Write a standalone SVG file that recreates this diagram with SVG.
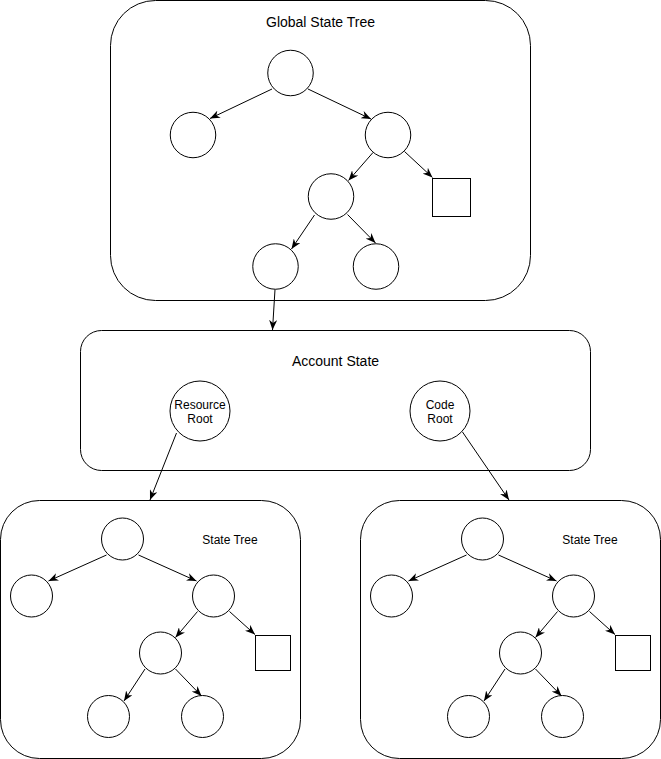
<svg xmlns="http://www.w3.org/2000/svg" width="661" height="759" viewBox="0 0 661 759">
  <defs>
    <marker id="arrow" viewBox="0 0 10 8" refX="10" refY="4" markerWidth="10" markerHeight="8" markerUnits="userSpaceOnUse" orient="auto">
      <path d="M0,0 L10,4 L0,8 L3,4 Z" fill="#000"/>
    </marker>
    <style>
      .box { fill: #fff; stroke: #000; stroke-width: 1; }
      .node { fill: #fff; stroke: #000; stroke-width: 1; }
      .edge { fill: none; stroke: #000; stroke-width: 1; marker-end: url(#arrow); }
      .title { font-family: "Liberation Sans", Arial, Helvetica, sans-serif; font-size: 14px; fill: #000; text-anchor: middle; }
      .label { font-family: "Liberation Sans", Arial, Helvetica, sans-serif; font-size: 12px; fill: #000; text-anchor: middle; }
    </style>
  </defs>

  <!-- Containers -->
  <g id="global-state-tree">
    <rect class="box" x="110.5" y="0.5" width="420" height="300" rx="45" ry="45"/>
    <text class="title" x="320.5" y="27">Global State Tree</text>
  </g>
  <g id="account-state">
    <rect class="box" x="80.5" y="330.5" width="510" height="140" rx="21" ry="21"/>
    <text class="title" x="335.5" y="366">Account State</text>
  </g>
  <g id="resource-state-tree">
    <rect class="box" x="0.5" y="500.5" width="300" height="258" rx="39" ry="39"/>
    <text class="label" x="230" y="544">State Tree</text>
  </g>
  <g id="code-state-tree">
    <rect class="box" x="360.5" y="500.5" width="300" height="258" rx="39" ry="39"/>
    <text class="label" x="590" y="544">State Tree</text>
  </g>

  <!-- Global tree nodes -->
  <g id="g-root"><circle class="node" cx="290.5" cy="73" r="22.75"/></g>
  <g id="g-left"><circle class="node" cx="193" cy="135" r="22.75"/></g>
  <g id="g-right"><circle class="node" cx="388" cy="135" r="22.75"/></g>
  <g id="g-mid"><circle class="node" cx="331" cy="196.5" r="22.75"/></g>
  <g id="g-leaf"><rect class="node" x="432.5" y="178.5" width="38" height="38"/></g>
  <g id="g-account"><circle class="node" cx="275.5" cy="266.5" r="22.75"/></g>
  <g id="g-other"><circle class="node" cx="376" cy="266.5" r="22.75"/></g>

  <!-- Account roots -->
  <g id="resource-root">
    <circle class="node" cx="200" cy="411" r="30"/>
    <text class="label" x="200" y="408.5">Resource</text>
    <text class="label" x="200" y="422.5">Root</text>
  </g>
  <g id="code-root">
    <circle class="node" cx="440" cy="411" r="30"/>
    <text class="label" x="440" y="408.5">Code</text>
    <text class="label" x="440" y="422.5">Root</text>
  </g>

  <!-- Resource state tree nodes -->
  <g id="r-root"><circle class="node" cx="122.5" cy="539" r="21"/></g>
  <g id="r-left"><circle class="node" cx="31.5" cy="596" r="21"/></g>
  <g id="r-right"><circle class="node" cx="213.5" cy="596" r="21"/></g>
  <g id="r-mid"><circle class="node" cx="160.5" cy="653" r="21"/></g>
  <g id="r-leaf"><rect class="node" x="255.5" y="635.5" width="35" height="35"/></g>
  <g id="r-bl"><circle class="node" cx="108.5" cy="716.5" r="21"/></g>
  <g id="r-br"><circle class="node" cx="202.5" cy="716.5" r="21"/></g>

  <!-- Code state tree nodes -->
  <g id="c-root"><circle class="node" cx="482.5" cy="539" r="21"/></g>
  <g id="c-left"><circle class="node" cx="391.5" cy="596" r="21"/></g>
  <g id="c-right"><circle class="node" cx="573.5" cy="596" r="21"/></g>
  <g id="c-mid"><circle class="node" cx="520.5" cy="653" r="21"/></g>
  <g id="c-leaf"><rect class="node" x="615.5" y="635.5" width="35" height="35"/></g>
  <g id="c-bl"><circle class="node" cx="468.5" cy="716.5" r="21"/></g>
  <g id="c-br"><circle class="node" cx="562.5" cy="716.5" r="21"/></g>

  <!-- Connectors -->
  <g id="connectors">
    <path class="edge" d="M272,89 L210,118.5"/>
    <path class="edge" d="M308,89 L371,119"/>
    <path class="edge" d="M373,152.5 L348.5,180.5"/>
    <path class="edge" d="M404.5,151.5 L432.5,177.5"/>
    <path class="edge" d="M314.5,215 L291.5,249"/>
    <path class="edge" d="M347.5,214.5 L375.5,243"/>
    <path class="edge" d="M275,289.5 L272.5,330"/>

    <path class="edge" d="M176.5,433 L150,500"/>
    <path class="edge" d="M462.5,432 L509,500"/>

    <path class="edge" d="M106.5,555 L48.5,581"/>
    <path class="edge" d="M138.5,555 L196.5,581"/>
    <path class="edge" d="M197.5,611.5 L175.5,637.5"/>
    <path class="edge" d="M229.5,611.5 L255,634.5"/>
    <path class="edge" d="M145,669 L124,701"/>
    <path class="edge" d="M175.5,669 L201.5,696"/>

    <path class="edge" d="M466.5,555 L408.5,581"/>
    <path class="edge" d="M498.5,555 L556.5,581"/>
    <path class="edge" d="M557.5,611.5 L535.5,637.5"/>
    <path class="edge" d="M589.5,611.5 L615,634.5"/>
    <path class="edge" d="M505,669 L484,701"/>
    <path class="edge" d="M535.5,669 L561.5,696"/>
  </g>
</svg>
